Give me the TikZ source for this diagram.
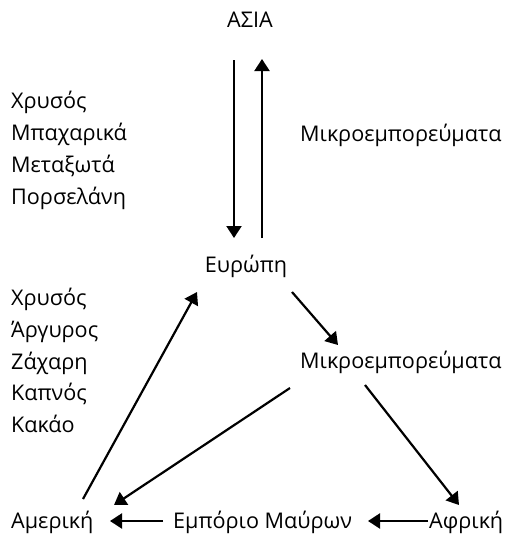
\documentclass[tikz,border=0pt]{standalone}
\usepackage{fontspec}
\setmainfont{Open Sans}
\usetikzlibrary{arrows.meta,calc}
\begin{document}
\begin{tikzpicture}[x=1pt,y=-1pt,every node/.style={inner sep=0pt,font=\fontsize{21.6}{24}\selectfont}]
      \useasboundingbox (0,0) rectangle (509,541);
      \draw
        (250,27) node[anchor=base] (asia){ΑΣΙΑ}
        (11,108) node[anchor=base west] (a1){Χρυσός}
        (11,140) node[anchor=base west] (a2){Μπαχαρικά}
        (11,172) node[anchor=base west] (a3){Μεταξωτά}
        (11,204) node[anchor=base west] (a4){Πορσελάνη}
        (300,141) node[anchor=base west] (wares1){Μικροεμπορεύματα}
        (246,272) node[anchor=base] (europe){Ευρώπη}
        (11,305) node[anchor=base west] (b1){Χρυσός}
        (11,337) node[anchor=base west] (b2){Άργυρος}
        (11,369) node[anchor=base west] (b3){Ζάχαρη}
        (11,400) node[anchor=base west] (b4){Καπνός}
        (11,432) node[anchor=base west] (b5){Κακάο}
        (300,368) node[anchor=base west] (wares2){Μικροεμπορεύματα}
        (11,528) node[anchor=base west] (america){Αμερική}
        (173,528) node[anchor=base west] (slaves){Εμπόριο Μαύρων}
        (429,528) node[anchor=base west] (africa){Αφρική};
      \begin{scope}[-{Triangle[width=15pt,length=12pt]},line width=2.2pt]
        \draw ($(asia.base)+(-16,33)$) to ($(europe.base)+(-12,-34)$);
        \draw ($(europe.base)+(16,-34)$) to ($(asia.base)+(12,32)$);
        \draw ($(europe.base)+(46,20)$) to ($(wares2.base west)+(38,-23)$);
        \draw ($(america.base west)+(72,-29)$) to ($(europe.base)+(-49,20)$);
        \draw ($(wares2.base west)+(-10,20)$) to ($(america.base west)+(103,-23)$);
        \draw ($(wares2.base west)+(65,17)$) to ($(africa.base west)+(30,-23)$);
        \draw ($(africa.base west)+(-1,-7)$) to ($(slaves.base west)+(195,-7)$);
        \draw ($(slaves.base west)+(-10,-7)$) to ($(america.base west)+(99,-7)$);
      \end{scope}
    \end{tikzpicture}
\end{document}
